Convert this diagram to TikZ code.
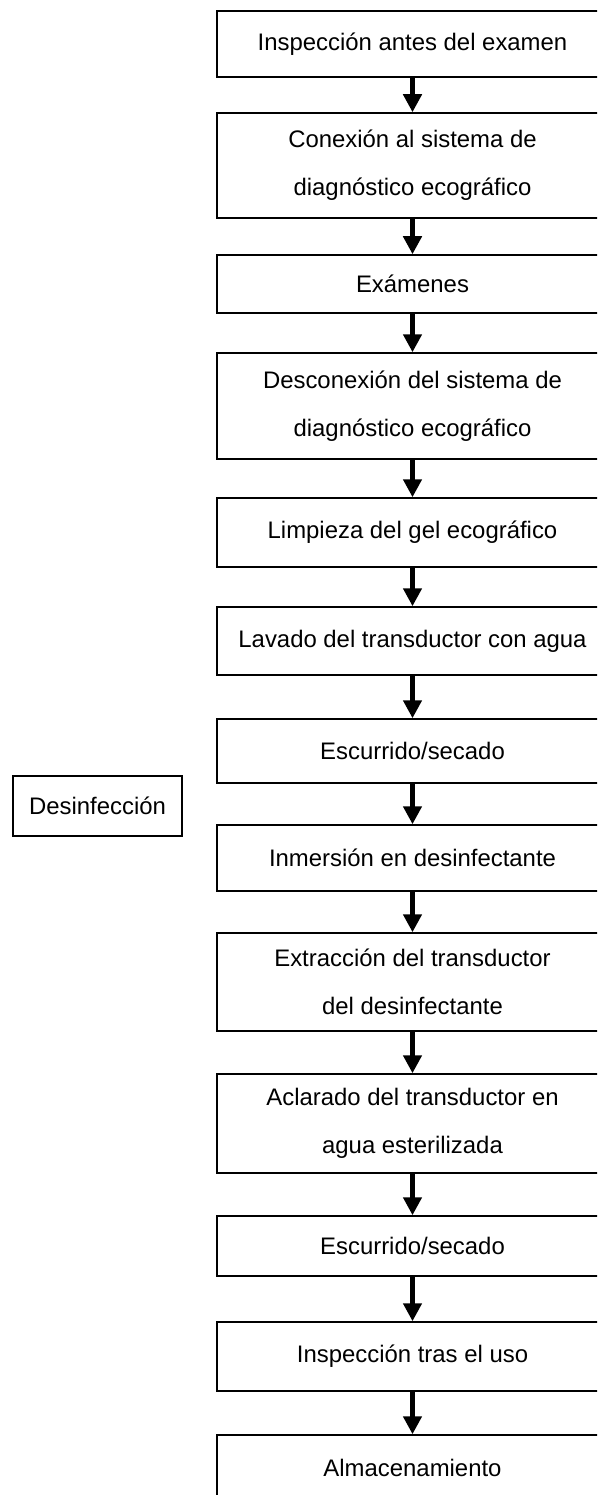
\documentclass[tikz,border=0pt]{standalone}
\usepackage{fontspec}
\setmainfont{Liberation Sans}
\usetikzlibrary{arrows.meta}
\tikzset{
  stepbox/.style={draw=black, line width=1.5pt, minimum width=391pt, inner sep=0pt,
    align=center, font=\fontsize{23.9}{48}\selectfont},
  sidebox/.style={draw=black, line width=1.5pt, minimum width=169pt, minimum height=60pt,
    inner sep=0pt, font=\fontsize{23.9}{48}\selectfont},
  flowarrow/.style={line width=5pt, -{Triangle[width=18pt,length=18pt]}}
}
\begin{document}
\begin{tikzpicture}[x=1pt,y=-1pt]
\useasboundingbox (0,0) rectangle (597,1495);
\clip (0,0) rectangle (597,1495);
\fill[white] (0,0) rectangle (597,1495);
\def\cx{412.5}
\node[stepbox, minimum height=66pt]  (b1)  at (\cx,44)     {Inspección antes del examen};
\node[stepbox, minimum height=105pt] (b2)  at (\cx,165.5)  {Conexión al sistema de\\diagnóstico ecográfico};
\node[stepbox, minimum height=58pt]  (b3)  at (\cx,284)    {Exámenes};
\node[stepbox, minimum height=106pt] (b4)  at (\cx,406)    {Desconexión del sistema de\\diagnóstico ecográfico};
\node[stepbox, minimum height=69pt]  (b5)  at (\cx,532.5)  {Limpieza del gel ecográfico};
\node[stepbox, minimum height=68pt]  (b6)  at (\cx,641)    {Lavado del transductor con agua};
\node[stepbox, minimum height=64pt]  (b7)  at (\cx,751)    {Escurrido/secado};
\node[stepbox, minimum height=66pt]  (b8)  at (\cx,858)    {Inmersión en desinfectante};
\node[stepbox, minimum height=98pt]  (b9)  at (\cx,982)    {Extracción del transductor\\del desinfectante};
\node[stepbox, minimum height=99pt]  (b10) at (\cx,1123.5) {Aclarado del transductor en\\agua esterilizada};
\node[stepbox, minimum height=60pt]  (b11) at (\cx,1246)   {Escurrido/secado};
\node[stepbox, minimum height=69pt]  (b12) at (\cx,1356.5) {Inspección tras el uso};
\node[stepbox, minimum height=65pt]  (b13) at (\cx,1467.5) {Almacenamiento};
\node[sidebox] (dis) at (97.5,806) {Desinfección};
\foreach \a/\b in {b1/b2,b2/b3,b3/b4,b4/b5,b5/b6,b6/b7,b7/b8,b8/b9,b9/b10,b10/b11,b11/b12,b12/b13}
  \draw[flowarrow] (\a.south) -- (\b.north);
\end{tikzpicture}
\end{document}
